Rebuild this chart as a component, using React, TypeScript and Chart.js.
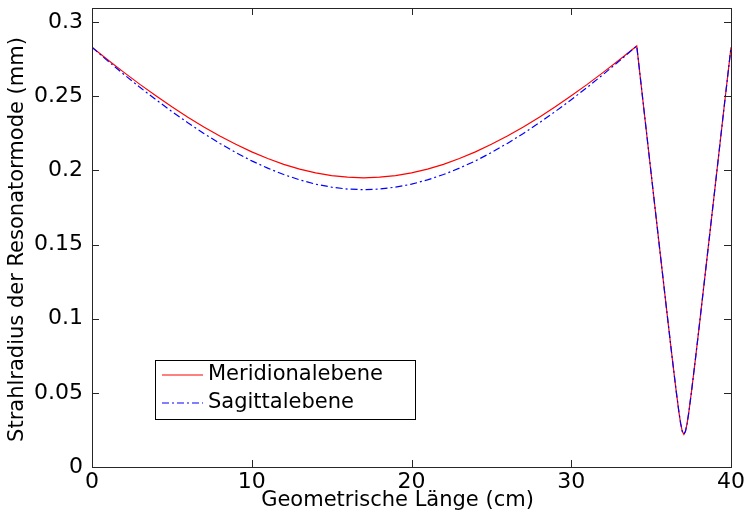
import { useEffect, useRef } from "react";
import { Chart, registerables } from "chart.js";

Chart.register(...registerables);

// Geometrische Länge (cm)
const lengthCm = [
  0, 1, 2, 3, 4, 5, 6, 7, 8, 9, 10, 11, 12, 13, 14, 15, 16, 17, 18, 19, 20, 21, 22, 23, 24, 25, 26, 27, 28, 29,
  30, 31, 32, 33, 34, 34.1, 34.6, 35.1, 35.55, 36.05, 36.3, 36.55, 36.75, 36.85, 36.95, 37.05, 37.15, 37.25,
  37.35, 37.55, 37.8, 38.05, 38.55, 39.05, 39.55, 40,
];

// Strahlradius (mm), Meridionalebene
const meridional = [
  0.283, 0.2744, 0.2661, 0.258, 0.2503, 0.2429, 0.2359, 0.2293, 0.2232, 0.2176, 0.2125, 0.208, 0.2041, 0.2009,
  0.1983, 0.1965, 0.1954, 0.195, 0.1954, 0.1965, 0.1983, 0.2009, 0.2041, 0.208, 0.2125, 0.2176, 0.2232, 0.2293,
  0.2359, 0.2429, 0.2503, 0.258, 0.2661, 0.2744, 0.283, 0.2839, 0.2362, 0.1885, 0.1457, 0.0985, 0.0753, 0.0528,
  0.0362, 0.0292, 0.024, 0.022, 0.024, 0.0292, 0.0362, 0.0528, 0.0753, 0.0985, 0.1457, 0.1932, 0.2409, 0.283,
];

// Strahlradius (mm), Sagittalebene
const sagittal = [
  0.283, 0.2737, 0.2647, 0.256, 0.2477, 0.2397, 0.2321, 0.2249, 0.2182, 0.212, 0.2064, 0.2015, 0.1972, 0.1936,
  0.1907, 0.1887, 0.1874, 0.187, 0.1874, 0.1887, 0.1907, 0.1936, 0.1972, 0.2015, 0.2064, 0.212, 0.2182, 0.2249,
  0.2321, 0.2397, 0.2477, 0.256, 0.2647, 0.2737, 0.283, 0.2839, 0.2362, 0.1885, 0.1457, 0.0985, 0.0753, 0.0528,
  0.0362, 0.0292, 0.024, 0.022, 0.024, 0.0292, 0.0362, 0.0528, 0.0753, 0.0985, 0.1457, 0.1932, 0.2409, 0.283,
];

const xTickValues = [0, 10, 20, 30, 40];
const xTickLabels = ["0", "10", "20", "30", "40"];
const yTickValues = [0, 0.05, 0.1, 0.15, 0.2, 0.25, 0.3];
const yTickLabels = ["0", "0.05", "0.1", "0.15", "0.2", "0.25", "0.3"];

const seriesNames = ["Meridionalebene", "Sagittalebene"];
const xTitle = "Geometrische Länge (cm)";
const yTitle = "Strahlradius der Resonatormode (mm)";

const FONT = "'DejaVu Sans', sans-serif";
const AXIS_COLOR = "#262626";

const framePlugin = {
  id: "framePlugin",
  afterDraw(chart: any) {
    const ctx = chart.ctx;
    const { left, right, top, bottom } = chart.chartArea;
    const xs = chart.scales.x;
    const ys = chart.scales.y;
    ctx.save();
    ctx.strokeStyle = AXIS_COLOR;
    ctx.lineWidth = 1;
    ctx.strokeRect(Math.round(left) + 0.5, Math.round(top) + 0.5, Math.round(right - left), Math.round(bottom - top));
    const tl = 7;
    ctx.beginPath();
    xTickValues.forEach((v) => {
      const px = Math.round(xs.getPixelForValue(v)) + 0.5;
      ctx.moveTo(px, bottom);
      ctx.lineTo(px, bottom - tl);
      ctx.moveTo(px, top);
      ctx.lineTo(px, top + tl);
    });
    yTickValues.forEach((v) => {
      const py = Math.round(ys.getPixelForValue(v)) + 0.5;
      ctx.moveTo(left, py);
      ctx.lineTo(left + tl, py);
      ctx.moveTo(right, py);
      ctx.lineTo(right - tl, py);
    });
    ctx.stroke();

    // axis titles
    ctx.fillStyle = "#000";
    ctx.font = `21px ${FONT}`;
    ctx.textAlign = "center";
    ctx.textBaseline = "middle";
    ctx.fillText(xTitle, 397.5, 501);
    ctx.save();
    ctx.translate(18, 239.5);
    ctx.rotate(-Math.PI / 2);
    ctx.fillText(yTitle, 0, 0);
    ctx.restore();

    // legend
    const bx = 155.5, by = 360.5, bw = 260, bh = 59;
    ctx.fillStyle = "#fff";
    ctx.fillRect(bx, by, bw, bh);
    ctx.strokeStyle = "#000";
    ctx.lineWidth = 1;
    ctx.strokeRect(bx, by, bw, bh);
    const rows = [375, 403];
    chart.data.datasets.forEach((ds: any, i: number) => {
      const y = rows[i];
      ctx.save();
      ctx.strokeStyle = ds.borderColor;
      ctx.lineWidth = ds.borderWidth;
      ctx.setLineDash(ds.borderDash || []);
      ctx.beginPath();
      ctx.moveTo(162, y);
      ctx.lineTo(203, y);
      ctx.stroke();
      ctx.restore();
      ctx.fillStyle = "#000";
      ctx.font = `21px ${FONT}`;
      ctx.textAlign = "left";
      ctx.textBaseline = "middle";
      ctx.fillText(ds.label, 208, y);
    });
    ctx.restore();
  },
};

export default function App() {
  const ref = useRef<HTMLCanvasElement | null>(null);
  useEffect(() => {
    if (!ref.current) return;
    const chart = new Chart(ref.current, {
      type: "line",
      data: {
        datasets: [
          {
            label: seriesNames[0],
            data: lengthCm.map((x, i) => ({ x, y: meridional[i] })),
            borderColor: "#ff0000",
            borderWidth: 1.2,
            pointRadius: 0,
            tension: 0,
            order: 2,
          },
          {
            label: seriesNames[1],
            data: lengthCm.map((x, i) => ({ x, y: sagittal[i] })),
            borderColor: "#0000ff",
            borderWidth: 1.2,
            borderDash: [7, 3, 2, 3],
            pointRadius: 0,
            tension: 0,
            order: 1,
          },
        ],
      },
      options: {
        animation: false,
        responsive: false,
        devicePixelRatio: 1,
        layout: { padding: { left: 0, top: 8, right: 18, bottom: 0 } },
        plugins: { legend: { display: false }, tooltip: { enabled: false } },
        scales: {
          x: {
            type: "linear",
            min: 0,
            max: 40,
            grid: { display: false, drawTicks: false },
            border: { display: false },
            afterBuildTicks: (s: any) => {
              s.ticks = xTickValues.map((v) => ({ value: v }));
            },
            ticks: {
              padding: 2,
              color: "#000",
              font: { family: FONT, size: 22 },
              maxRotation: 0,
              autoSkip: false,
              callback: (v: any) => xTickLabels[xTickValues.indexOf(Number(v))] ?? "",
            },
            afterFit: (s: any) => {
              s.height = 52;
              s.paddingLeft = 0;
              s.paddingRight = 0;
            },
          },
          y: {
            type: "linear",
            min: 0,
            max: 0.3095,
            grid: { display: false, drawTicks: false },
            border: { display: false },
            afterBuildTicks: (s: any) => {
              s.ticks = yTickValues.map((v) => ({ value: v }));
            },
            ticks: {
              padding: 9,
              color: "#000",
              font: { family: FONT, size: 22 },
              autoSkip: false,
              callback: (v: any) => {
                const idx = yTickValues.findIndex((t) => Math.abs(t - Number(v)) < 1e-9);
                return idx >= 0 ? yTickLabels[idx] : "";
              },
            },
            afterFit: (s: any) => {
              s.width = 92;
              s.paddingTop = 0;
              s.paddingBottom = 0;
            },
          },
        },
      },
      plugins: [framePlugin],
    });
    return () => chart.destroy();
  }, []);
  return (
    <div style={{ position: "absolute", left: 0, top: 0, width: 749, height: 519, background: "#fff" }}>
      <canvas ref={ref} width={749} height={519} style={{ display: "block" }} />
    </div>
  );
}
